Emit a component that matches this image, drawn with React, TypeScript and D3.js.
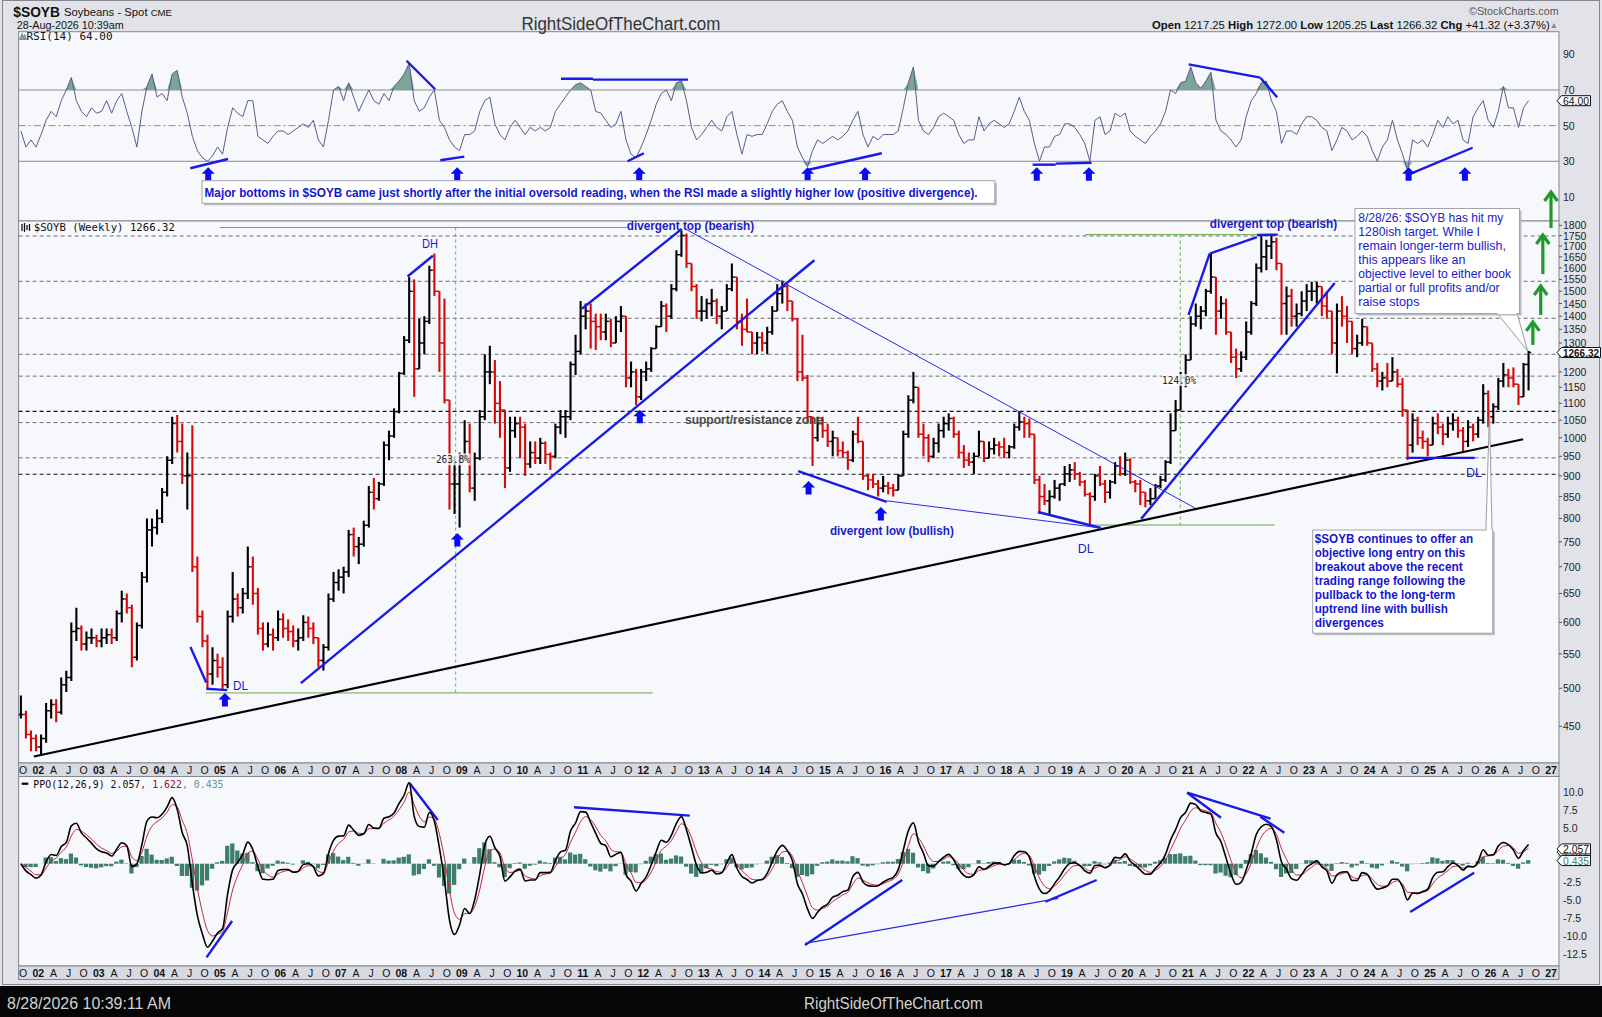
'use client';

import React, { useEffect, useRef } from 'react';
import * as d3 from 'd3';

const firstYear = 2001;
const firstMonth = 8; // September (0-based)

const monthCloses: number[] = [
  465, 440, 435, 425, // 2001
  435, 470, 478, 468, 505, 515, 585, 590, 565, 575, 575, 570, // 2002
  575, 580, 575, 615, 640, 625, 545, 595, 680, 775, 780, 800, // 2003
  860, 940, 1040, 990, 900, 900, 700, 610, 570, 520, 540, 530, // 2004
  505, 610, 640, 625, 650, 700, 650, 590, 565, 580, 575, 605, // 2005
  590, 585, 570, 575, 600, 590, 575, 540, 560, 640, 670, 680, // 2006
  690, 765, 740, 745, 785, 860, 845, 880, 980, 1005, 1075, 1195, // 2007
  1310, 1500, 1210, 1300, 1380, 1590, 1500, 1300, 1110, 880, 880, 950, // 2008
  990, 870, 945, 1060, 1200, 1200, 1100, 1080, 920, 1020, 1040, 1030, // 2009
  930, 960, 945, 985, 955, 950, 1030, 1060, 1060, 1225, 1270, 1400, // 2010
  1420, 1380, 1360, 1340, 1380, 1300, 1380, 1400, 1180, 1200, 1120, 1200, // 2011
  1210, 1280, 1360, 1440, 1400, 1510, 1660, 1750, 1620, 1520, 1420, 1420, // 2012
  1450, 1460, 1400, 1420, 1510, 1560, 1380, 1350, 1340, 1300, 1320, 1300, // 2013
  1340, 1420, 1490, 1520, 1460, 1390, 1200, 1180, 1060, 1000, 1040, 1020, // 2014
  990, 1000, 965, 960, 940, 1010, 990, 900, 890, 880, 870, 875, // 2015
  870, 865, 900, 1010, 1110, 1150, 1010, 1000, 950, 985, 1020, 1040, // 2016
  1055, 1010, 960, 940, 935, 950, 990, 945, 970, 980, 975, 960, // 2017
  975, 1030, 1045, 1040, 1010, 890, 850, 840, 850, 870, 880, 905, // 2018
  915, 905, 885, 855, 850, 900, 880, 860, 885, 925, 905, 940, // 2019
  885, 880, 860, 840, 845, 875, 890, 935, 1020, 1080, 1180, 1240, // 2020
  1370, 1400, 1420, 1500, 1560, 1420, 1450, 1340, 1250, 1210, 1250, 1340, // 2021
  1450, 1600, 1650, 1700, 1720, 1620, 1450, 1480, 1400, 1410, 1460, 1500, // 2022
  1500, 1520, 1440, 1420, 1300, 1420, 1400, 1380, 1280, 1300, 1360, 1300, // 2023
  1210, 1170, 1180, 1170, 1200, 1160, 1080, 980, 1050, 1000, 990, 980, // 2024
  1040, 1030, 1010, 1040, 1050, 1020, 990, 1030, 1010, 1050, 1130, 1060, // 2025
  1090, 1170, 1190, 1180, 1160, 1120, 1225, 1266.32 // 2026
];

const monthHighs: number[] = [
  490, 470, 445, 440,
  440, 480, 485, 485, 515, 525, 600, 625, 595, 585, 590, 580,
  590, 590, 590, 620, 655, 650, 630, 600, 690, 800, 800, 820,
  870, 950, 1060, 1065, 1040, 960, 1035, 720, 620, 580, 560, 550,
  545, 620, 690, 650, 660, 740, 720, 660, 600, 600, 590, 620,
  615, 605, 595, 590, 612, 610, 600, 575, 565, 650, 690, 695,
  700, 775, 780, 760, 795, 875, 895, 885, 990, 1020, 1085, 1200,
  1325, 1560, 1550, 1390, 1400, 1610, 1665, 1480, 1470, 1100, 950, 960,
  1050, 1040, 960, 1080, 1260, 1290, 1240, 1170, 1080, 1060, 1060, 1060,
  1040, 990, 990, 1000, 990, 960, 1040, 1080, 1080, 1235, 1330, 1460,
  1450, 1450, 1410, 1410, 1410, 1390, 1400, 1440, 1400, 1235, 1210, 1210,
  1235, 1285, 1365, 1460, 1450, 1530, 1680, 1775, 1760, 1620, 1530, 1480,
  1470, 1510, 1470, 1440, 1530, 1620, 1560, 1410, 1470, 1340, 1340, 1340,
  1360, 1440, 1530, 1545, 1530, 1460, 1390, 1330, 1190, 1060, 1060, 1060,
  1040, 1020, 1000, 990, 965, 1020, 1060, 990, 905, 905, 890, 900,
  885, 880, 905, 1020, 1125, 1200, 1150, 1040, 1010, 1000, 1040, 1060,
  1070, 1060, 1020, 980, 960, 960, 1020, 990, 990, 1000, 990, 1000,
  980, 1040, 1075, 1060, 1055, 1010, 900, 880, 865, 890, 880, 925,
  930, 935, 910, 890, 860, 905, 925, 890, 890, 935, 950, 960,
  945, 890, 890, 860, 870, 880, 900, 940, 1070, 1110, 1200, 1260,
  1400, 1450, 1440, 1510, 1665, 1560, 1480, 1470, 1340, 1280, 1270, 1380,
  1460, 1620, 1750, 1730, 1750, 1740, 1620, 1520, 1510, 1450, 1500, 1530,
  1540, 1540, 1520, 1500, 1420, 1450, 1480, 1440, 1370, 1330, 1390, 1350,
  1300, 1230, 1200, 1230, 1250, 1210, 1180, 1080, 1070, 1060, 1020, 1000,
  1060, 1070, 1040, 1060, 1070, 1060, 1030, 1050, 1040, 1060, 1160, 1140,
  1100, 1180, 1230, 1210, 1215, 1160, 1230, 1272
];

const monthLows: number[] = [
  460, 435, 420, 420,
  415, 430, 460, 455, 465, 495, 510, 570, 555, 555, 565, 560,
  560, 565, 565, 570, 600, 615, 530, 540, 590, 670, 740, 765,
  790, 850, 930, 960, 880, 820, 690, 600, 560, 500, 505, 515,
  497, 500, 600, 610, 615, 640, 630, 580, 555, 560, 555, 570,
  575, 570, 560, 555, 570, 575, 565, 530, 525, 555, 635, 655,
  650, 680, 720, 705, 740, 780, 820, 840, 875, 940, 1000, 1070,
  1190, 1300, 1120, 1220, 1260, 1370, 1480, 1200, 1100, 820, 810, 780,
  940, 860, 840, 940, 1050, 1160, 1040, 1000, 870, 910, 1000, 945,
  900, 920, 930, 930, 930, 915, 945, 1010, 1000, 1050, 1190, 1260,
  1350, 1280, 1275, 1310, 1310, 1285, 1300, 1340, 1150, 1150, 1095, 1110,
  1170, 1200, 1280, 1360, 1340, 1390, 1500, 1650, 1600, 1500, 1390, 1380,
  1390, 1400, 1370, 1350, 1420, 1500, 1350, 1290, 1340, 1260, 1260, 1270,
  1260, 1330, 1420, 1450, 1420, 1380, 1170, 1170, 1040, 925, 990, 1000,
  975, 950, 950, 945, 915, 935, 985, 890, 865, 870, 850, 860,
  855, 850, 865, 900, 1000, 1100, 1000, 950, 935, 945, 960, 1000,
  1020, 1000, 945, 920, 925, 905, 950, 935, 950, 955, 950, 945,
  945, 970, 1020, 1000, 1000, 880, 810, 830, 810, 845, 840, 875,
  885, 890, 875, 850, 785, 840, 875, 835, 845, 880, 900, 900,
  880, 860, 830, 825, 830, 845, 870, 885, 930, 1020, 1080, 1150,
  1260, 1360, 1350, 1400, 1490, 1330, 1390, 1330, 1230, 1180, 1200, 1240,
  1330, 1440, 1580, 1590, 1640, 1590, 1330, 1330, 1360, 1360, 1400, 1420,
  1460, 1450, 1400, 1390, 1260, 1195, 1360, 1300, 1260, 1250, 1290, 1290,
  1200, 1150, 1140, 1150, 1170, 1150, 1060, 940, 960, 980, 970, 950,
  980, 1010, 980, 1000, 1020, 1000, 960, 975, 990, 1000, 1040, 1030,
  1040, 1080, 1150, 1150, 1150, 1095, 1120, 1140
];

// RSI(14), one reading per month
const rsiReadings: number[] = [
  47, 38, 42, 38,
  45, 53, 58, 55, 64, 70, 77, 64, 58, 55, 60, 57,
  58, 64, 57, 64, 68, 58, 49, 38, 58, 72, 79, 66,
  68, 64, 79, 81, 66, 57, 44, 36, 32, 30, 33, 38,
  34, 49, 60, 57, 55, 64, 64, 44, 42, 40, 44, 47,
  47, 45, 47, 49, 51, 49, 53, 42, 38, 53, 70, 72,
  64, 74, 66, 58, 64, 70, 64, 62, 68, 64, 72, 75,
  79, 85, 64, 58, 60, 66, 70, 53, 49, 42, 38, 36,
  45, 45, 47, 58, 64, 66, 51, 45, 42, 49, 53, 49,
  45, 49, 47, 49, 47, 49, 58, 62, 66, 70, 73, 74,
  72, 70, 58, 57, 53, 49, 51, 58, 42, 34, 32, 38,
  45, 53, 62, 68, 70, 64, 74, 75, 64, 49, 42, 45,
  49, 53, 49, 47, 55, 58, 45, 34, 45, 44, 45, 45,
  51, 58, 62, 64, 58, 53, 38, 32, 27, 36, 42, 40,
  42, 44, 42, 44, 47, 53, 58, 45, 38, 44, 42, 45,
  45, 45, 47, 60, 74, 83, 53, 47, 45, 49, 55, 57,
  55, 53, 45, 40, 42, 42, 55, 47, 51, 53, 51, 49,
  51, 58, 66, 58, 53, 40, 30, 38, 38, 44, 45, 51,
  51, 49, 45, 40, 30, 53, 55, 45, 47, 57, 55, 57,
  47, 44, 42, 40, 44, 47, 51, 58, 70, 68, 74, 75,
  83, 74, 71, 75, 80, 53, 47, 45, 42, 38, 42, 55,
  64, 68, 74, 75, 64, 58, 40, 47, 47, 45, 51, 55,
  55, 53, 49, 47, 36, 42, 49, 47, 42, 44, 47, 44,
  36, 30, 38, 42, 53, 42, 34, 25, 42, 40, 42, 38,
  45, 53, 49, 55, 51, 53, 42, 40, 55, 60, 64, 53,
  49, 58, 72, 60, 60, 49, 60, 64
];

const priceTicks = [450, 500, 550, 600, 650, 700, 750, 800, 850, 900, 950, 1000, 1050, 1100, 1150, 1200, 1250, 1300, 1350, 1400, 1450, 1500, 1550, 1600, 1650, 1700, 1750, 1800];
const rsiTicks = [90, 70, 50, 30, 10];
const ppoTicks = [10, 7.5, 5, 2.5, 0, -2.5, -5, -7.5, -10, -12.5];
const quarterLetters = ['A', 'J', 'O'];
const axisYears = d3.range(2002, 2028);

// last values shown in the boxes on the right
const lastRsi = 64;
const lastPrice = 1266.32;
const lastPpo = [2.057, 1.622, 0.435];

// drawn support / resistance levels
const levelsGray = [1748, 1542, 1392, 1260, 1186, 1043, 946];
const levelsBlack = [1076, 904];

// trend lines: [year1, price1, year2, price2]
const longTermTrend = [2001.926, 414, 2026.54, 995.9];
const blueThick = [
  [2004.514, 560.5, 2004.776, 508],
  [2004.776, 499.3, 2005.123, 497.4],
  [2008.103, 1562.5, 2008.521, 1655],
  [2006.34, 507.1, 2014.826, 1634.6],
  [2010.985, 1429, 2012.635, 1782.5],
  [2014.558, 912, 2016.021, 837.7],
  [2018.521, 814.4, 2019.563, 779.1],
  [2020.227, 799, 2023.426, 1535],
  [2021.01, 1404.7, 2021.359, 1664.8],
  [2021.359, 1664.8, 2022.14, 1742.5],
  [2022.14, 1752.8, 2022.485, 1754.8],
  [2024.614, 945.9, 2025.74, 945.9]
];
const blueThin = [
  [2012.692, 1782.5, 2021.113, 823.7],
  [2016.021, 840, 2019.563, 779.1]
];
const greenSolid = [
  [2004.998, 1789.5, 2011.729, 1789.5],
  [2004.771, 493.6, 2012.154, 493.6],
  [2019.298, 1754.7, 2022.454, 1754.7],
  [2019.399, 785.6, 2022.437, 785.6]
];
const greenDashed = [
  [2008.898, 1789.5, 2008.898, 493.6],
  [2020.873, 1754.7, 2020.873, 785.6]
];
// target arrows: [year, price bottom, price top]
const greenArrows = [
  [2026.7, 1293, 1378],
  [2026.83, 1405, 1522],
  [2026.865, 1573, 1753],
  [2027.0, 1787, 1974]
];
const priceArrows = [
  [2005.084, 493.6], [2008.925, 768.4], [2011.941, 1081], [2014.73, 887.3], [2015.925, 825.7]
];
const rsiArrowYears = [2004.808, 2008.923, 2011.931, 2014.714, 2015.664, 2018.501, 2019.363, 2024.647, 2025.577];
const rsiLines = [
  [2004.512, 26.1, 2005.135, 31.3],
  [2008.644, 30.6, 2009.04, 32.6],
  [2011.739, 30.0, 2012.008, 34.5],
  [2008.087, 86.4, 2008.559, 70.4],
  [2010.638, 76.3, 2011.167, 76.3],
  [2011.167, 75.8, 2012.737, 75.8],
  [2014.715, 25.1, 2015.94, 34.5],
  [2018.433, 28.1, 2018.815, 28.1],
  [2018.815, 28.7, 2019.407, 29.2],
  [2021.012, 84.4, 2022.197, 76.9],
  [2022.197, 76.9, 2022.474, 65.9],
  [2024.605, 21.9, 2025.704, 37.6]
];
const ppoThick = [
  [2004.781, -13.0, 2005.203, -7.96],
  [2008.138, 11.17, 2008.602, 6.07],
  [2010.853, 7.83, 2012.767, 6.67],
  [2014.672, -11.29, 2016.278, -2.26],
  [2018.645, -5.28, 2019.491, -2.26],
  [2020.987, 9.86, 2021.546, 6.39],
  [2020.987, 9.86, 2022.365, 6.25],
  [2022.197, 6.53, 2022.593, 4.31],
  [2024.673, -6.71, 2025.73, -1.25]
];
const ppoThin = [[2014.672, -11.06, 2018.857, -4.81]];

const priceNotes = [
  { text: 'DH', t: 2008.473, p: 1710, anchor: 'middle', bold: false, color: '#1c1cc8', w: 16 },
  { text: 'DL', t: 2005.217, p: 503.2, anchor: 'start', bold: false, color: '#1c1cc8', w: 15 },
  { text: 'divergent top (bearish)', t: 2012.778, p: 1794.5, anchor: 'middle', bold: true, color: '#1c1cc8', w: 127.5 },
  { text: 'support/resistance zone', t: 2013.828, p: 1050.5, anchor: 'middle', bold: true, color: '#4a4a4a', w: 138 },
  { text: 'divergent low (bullish)', t: 2016.107, p: 773.5, anchor: 'middle', bold: true, color: '#1c1cc8', w: 124 },
  { text: 'DL', t: 2019.312, p: 734.6, anchor: 'middle', bold: false, color: '#1c1cc8', w: 16 },
  { text: 'divergent top (bearish)', t: 2022.413, p: 1808.9, anchor: 'middle', bold: true, color: '#1c1cc8', w: 127.5 },
  { text: 'DL', t: 2025.727, p: 907.2, anchor: 'middle', bold: false, color: '#1c1cc8', w: 16 }
];
const extensionLabels = [
  { text: '263.8%', t: 2008.853, p: 942 },
  { text: '124.0%', t: 2020.854, p: 1173.4 }
];

const rsiNote = 'Major bottoms in $SOYB came just shortly after the initial oversold reading, when the RSI made a slightly higher low (positive divergence).';
const targetNote = ['8/28/26: $SOYB has hit my', '1280ish target. While I', 'remain longer-term bullish,', 'this appears like an', 'objective level to either book', 'partial or full profits and/or', 'raise stops'];
const targetWidths = [145, 121.7, 147.6, 107, 152.8, 141.4, 61.2];
const entryNote = ['$SOYB continues to offer an', 'objective long entry on this', 'breakout above the recent', 'trading range following the', 'pullback to the long-term', 'uptrend line with bullish', 'divergences'];
const entryWidths = [158.3, 150.4, 148, 150.4, 140.3, 133, 69.1];

const W = 1602;
const H = 1017;
const plotL = 18.6;
const plotR = 1559;
const rsiTop = 31.7;
const priceTop = 221;
const priceBot = 763;
const ppoTop = 776.5;
const ppoBot = 966;

const sans = '"Liberation Sans", Arial, Helvetica, sans-serif';
const narrow = '"Liberation Sans Narrow", "Liberation Sans", Arial, sans-serif';
const mono = '"DejaVu Sans Mono", "Liberation Mono", monospace';

const ema = (values: number[], period: number) => {
  const a = 2 / (period + 1);
  let prev = values[0];
  return values.map((v, i) => {
    if (i > 0) prev = a * v + (1 - a) * prev;
    return prev;
  });
};

// weekly EMA period -> monthly period with the same average lag
const weeksPerMonth = 52 / 12;
const toMonthly = (weeks: number) => 1 + (weeks - 1) / weeksPerMonth;

const App: React.FC = () => {
  const svgRef = useRef<SVGSVGElement>(null);

  useEffect(() => {
    if (!svgRef.current) return;
    const svg = d3.select(svgRef.current);
    svg.selectAll('*').remove();

    const x = d3.scaleLinear().domain([2002, 2027]).range([38.3, 1551]);
    const yPrice = d3.scaleLog().domain([406.6, 1822]).range([priceBot, priceTop]);
    const yRsi = d3.scaleLinear().domain([-3.5, 102.7]).range([priceTop, rsiTop]);
    const yPpo = d3.scaleLinear().domain([-14.2, 12.08]).range([ppoBot, 776.7]);

    const monthT = monthCloses.map((_, i) => firstYear + (firstMonth + i + 0.55) / 12);

    // PPO(12,26,9) from the monthly closes
    const fast = ema(monthCloses, toMonthly(12));
    const slow = ema(monthCloses, toMonthly(26));
    const ppo = fast.map((f, i) => ((f - slow[i]) / slow[i]) * 100);
    const signal = ema(ppo, toMonthly(9));
    const hist = ppo.map((p, i) => p - signal[i]);

    // background
    svg.append('rect').attr('width', W).attr('height', H).attr('fill', '#e2e3e9');
    svg.append('rect').attr('x', 2.5).attr('y', 0.5).attr('width', 1597).attr('height', 984)
      .attr('fill', 'none').attr('stroke', '#85868d');

    const defs = svg.append('defs');
    const clip = (id: string, y0: number, y1: number) => {
      defs.append('clipPath').attr('id', id).append('rect')
        .attr('x', plotL).attr('y', y0).attr('width', plotR - plotL).attr('height', y1 - y0);
    };
    clip('clipRsi', rsiTop, priceTop);
    clip('clipPrice', priceTop, priceBot);
    clip('clipPpo', ppoTop, ppoBot);

    // panels
    [[rsiTop, priceTop], [priceTop, priceBot], [ppoTop, ppoBot]].forEach(([a, b]) => {
      svg.append('rect').attr('x', plotL).attr('y', a).attr('width', plotR - plotL).attr('height', b - a)
        .attr('fill', '#f6f8fc').attr('stroke', '#85878f');
    });

    // header
    svg.append('text').attr('x', 13.3).attr('y', 12.3).attr('dominant-baseline', 'central')
      .attr('font-family', sans).attr('font-weight', 'bold').attr('font-size', 14)
      .attr('textLength', 46.7).attr('lengthAdjust', 'spacingAndGlyphs').attr('fill', '#111').text('$SOYB');
    const subTitle = svg.append('text').attr('x', 64).attr('y', 12.3).attr('dominant-baseline', 'central')
      .attr('font-family', sans).attr('fill', '#111');
    subTitle.append('tspan').attr('font-size', 11.3).text('Soybeans - Spot ');
    subTitle.append('tspan').attr('font-size', 9.6).text('CME');
    svg.append('text').attr('x', 16.7).attr('y', 25).attr('dominant-baseline', 'central')
      .attr('font-family', sans).attr('font-size', 11.5).attr('textLength', 107)
      .attr('lengthAdjust', 'spacingAndGlyphs').attr('fill', '#111').text('28-Aug-2026 10:39am');
    svg.append('text').attr('x', 521.4).attr('y', 23.5).attr('dominant-baseline', 'central')
      .attr('font-family', narrow).attr('font-size', 18).attr('textLength', 199)
      .attr('lengthAdjust', 'spacingAndGlyphs').attr('fill', '#333').text('RightSideOfTheChart.com');
    svg.append('text').attr('x', 1558.6).attr('y', 11).attr('text-anchor', 'end').attr('dominant-baseline', 'central')
      .attr('font-family', narrow).attr('font-size', 11.5).attr('textLength', 89.6)
      .attr('lengthAdjust', 'spacingAndGlyphs').attr('fill', '#555').text('\u00A9StockCharts.com');
    const quote = svg.append('text').attr('x', 1152).attr('y', 24.8).attr('dominant-baseline', 'central')
      .attr('font-family', narrow).attr('font-size', 11.5).attr('textLength', 406)
      .attr('lengthAdjust', 'spacingAndGlyphs').attr('fill', '#111');
    [['Open ', true], ['1217.25 ', false], ['High ', true], ['1272.00 ', false], ['Low ', true],
      ['1205.25 ', false], ['Last ', true], ['1266.32 ', false], ['Chg ', true], ['+41.32 (+3.37%)', false]]
      .forEach(([s, b]) => {
        quote.append('tspan').attr('font-weight', b ? 'bold' : 'normal').text(s as string);
      });
    quote.append('tspan').attr('fill', '#888').attr('font-size', 8.5).text('\u25B2');

    // ---------- RSI panel ----------
    const rsiG = svg.append('g');
    rsiG.append('g').selectAll('line').data([70, 30]).enter().append('line')
      .attr('x1', plotL).attr('x2', plotR).attr('y1', d => yRsi(d)).attr('y2', d => yRsi(d))
      .attr('stroke', '#8c8c90').attr('stroke-width', 1);
    rsiG.append('line').attr('x1', plotL).attr('x2', plotR).attr('y1', yRsi(50)).attr('y2', yRsi(50))
      .attr('stroke', '#8c8c90').attr('stroke-dasharray', '7,3,2,3');

    const rsiData = rsiReadings.map((r, i) => ({ t: monthT[i], r }));
    const hiArea = d3.area<{ t: number; r: number }>().x(d => x(d.t)).y0(yRsi(70)).y1(d => yRsi(Math.max(d.r, 70)));
    const loArea = d3.area<{ t: number; r: number }>().x(d => x(d.t)).y0(yRsi(30)).y1(d => yRsi(Math.min(d.r, 30)));
    rsiG.append('path').attr('d', hiArea(rsiData)).attr('fill', '#7ba596').attr('clip-path', 'url(#clipRsi)');
    rsiG.append('path').attr('d', loArea(rsiData)).attr('fill', '#8fa8b8').attr('clip-path', 'url(#clipRsi)');
    const rsiLine = d3.line<{ t: number; r: number }>().x(d => x(d.t)).y(d => yRsi(d.r));
    rsiG.append('path').attr('d', rsiLine(rsiData)).attr('fill', 'none').attr('stroke', '#5c5a8e')
      .attr('stroke-width', 1).attr('clip-path', 'url(#clipRsi)');

    rsiG.selectAll('text.tick').data(rsiTicks).enter().append('text').attr('class', 'tick')
      .attr('x', 1563).attr('y', d => yRsi(d)).attr('dominant-baseline', 'central')
      .attr('font-family', sans).attr('font-size', 10.5).attr('fill', '#222').text(d => String(d));

    // title with icon
    svg.append('path').attr('d', 'M19.5,39.5 L22,33.5 L23.5,36.5 L24.7,34.5 L26.5,39.5 Z').attr('fill', '#7ba596').attr('stroke', '#5c5a8e').attr('stroke-width', 0.6);
    svg.append('text').attr('x', 26.5).attr('y', 36.5).attr('dominant-baseline', 'central')
      .attr('font-family', mono).attr('font-size', 11).attr('textLength', 86)
      .attr('lengthAdjust', 'spacingAndGlyphs').attr('fill', '#111').text('RSI(14) 64.00');

    // ---------- price panel ----------
    const priceG = svg.append('g');
    priceG.selectAll('line.lvl').data(levelsGray).enter().append('line').attr('class', 'lvl')
      .attr('x1', plotL).attr('x2', plotR).attr('y1', d => yPrice(d)).attr('y2', d => yPrice(d))
      .attr('stroke', '#6e6e72').attr('stroke-width', 1).attr('stroke-dasharray', '4,3');
    priceG.selectAll('line.lvlb').data(levelsBlack).enter().append('line').attr('class', 'lvlb')
      .attr('x1', plotL).attr('x2', plotR).attr('y1', d => yPrice(d)).attr('y2', d => yPrice(d))
      .attr('stroke', '#111').attr('stroke-width', 1.2).attr('stroke-dasharray', '4,3');

    // measuring lines
    priceG.selectAll('line.gs').data(greenSolid).enter().append('line').attr('class', 'gs')
      .attr('x1', d => x(d[0])).attr('y1', d => yPrice(d[1])).attr('x2', d => x(d[2])).attr('y2', d => yPrice(d[3]))
      .attr('stroke', '#6aa84a').attr('stroke-width', 1);
    priceG.selectAll('line.gd').data(greenDashed).enter().append('line').attr('class', 'gd')
      .attr('x1', d => x(d[0])).attr('y1', d => yPrice(d[1])).attr('x2', d => x(d[2])).attr('y2', d => yPrice(d[3]))
      .attr('stroke', '#6aa84a').attr('stroke-width', 1).attr('stroke-dasharray', '3,3');

    // OHLC bars
    const bars = monthCloses.map((c, i) => {
      const o = i === 0 ? c : monthCloses[i - 1];
      return { t: monthT[i], o, c, h: Math.max(monthHighs[i], o, c), l: Math.min(monthLows[i], o, c) };
    });
    const barG = priceG.append('g').attr('clip-path', 'url(#clipPrice)');
    barG.selectAll('g.bar').data(bars).enter().append('g').attr('class', 'bar').each(function (d) {
      const g = d3.select(this);
      const cx = x(d.t);
      const col = d.c >= d.o ? '#000000' : '#d20a0a';
      g.append('line').attr('x1', cx).attr('x2', cx).attr('y1', yPrice(d.h)).attr('y2', yPrice(d.l))
        .attr('stroke', col).attr('stroke-width', 2.1);
      g.append('line').attr('x1', cx - 2.6).attr('x2', cx).attr('y1', yPrice(d.o)).attr('y2', yPrice(d.o))
        .attr('stroke', col).attr('stroke-width', 1.5);
      g.append('line').attr('x1', cx).attr('x2', cx + 2.6).attr('y1', yPrice(d.c)).attr('y2', yPrice(d.c))
        .attr('stroke', col).attr('stroke-width', 1.5);
    });

    // trend lines
    priceG.append('line').attr('x1', x(longTermTrend[0])).attr('y1', yPrice(longTermTrend[1]))
      .attr('x2', x(longTermTrend[2])).attr('y2', yPrice(longTermTrend[3]))
      .attr('stroke', '#000').attr('stroke-width', 2.2);
    priceG.selectAll('line.bt').data(blueThick).enter().append('line').attr('class', 'bt')
      .attr('x1', d => x(d[0])).attr('y1', d => yPrice(d[1])).attr('x2', d => x(d[2])).attr('y2', d => yPrice(d[3]))
      .attr('stroke', '#1a1ae6').attr('stroke-width', 2.4);
    priceG.selectAll('line.bn').data(blueThin).enter().append('line').attr('class', 'bn')
      .attr('x1', d => x(d[0])).attr('y1', d => yPrice(d[1])).attr('x2', d => x(d[2])).attr('y2', d => yPrice(d[3]))
      .attr('stroke', '#2a2ae0').attr('stroke-width', 1);

    const upArrow = 'M0,0 L6.5,6.5 L3,6.5 L3,13.5 L-3,13.5 L-3,6.5 L-6.5,6.5 Z';
    priceG.selectAll('path.arr').data(priceArrows).enter().append('path').attr('class', 'arr')
      .attr('d', upArrow).attr('fill', '#0a0af5')
      .attr('transform', d => `translate(${x(d[0])},${yPrice(d[1])})`);

    priceNotes.forEach(n => {
      priceG.append('text').attr('x', x(n.t)).attr('y', yPrice(n.p)).attr('text-anchor', n.anchor)
        .attr('dominant-baseline', 'central').attr('font-family', sans).attr('font-size', 12)
        .attr('font-weight', n.bold ? 'bold' : 'normal').attr('fill', n.color)
        .attr('textLength', n.w).attr('lengthAdjust', 'spacingAndGlyphs').text(n.text);
    });
    extensionLabels.forEach(n => {
      const cx = x(n.t);
      const cy = yPrice(n.p);
      priceG.append('rect').attr('x', cx - 17.5).attr('y', cy - 6).attr('width', 35).attr('height', 12)
        .attr('fill', '#ffffff').attr('opacity', 0.75);
      priceG.append('text').attr('x', cx).attr('y', cy).attr('text-anchor', 'middle').attr('dominant-baseline', 'central')
        .attr('font-family', mono).attr('font-size', 10).attr('fill', '#222')
        .attr('textLength', 34).attr('lengthAdjust', 'spacingAndGlyphs').text(n.text);
    });

    // green target arrows
    greenArrows.forEach(a => {
      const ax = x(a[0]);
      const yb = yPrice(a[1]);
      const yt = yPrice(a[2]);
      priceG.append('line').attr('x1', ax).attr('x2', ax).attr('y1', yb).attr('y2', yt + 1)
        .attr('stroke', '#1f9a2a').attr('stroke-width', 3.2);
      priceG.append('path').attr('d', `M${ax - 6.5},${yt + 9} L${ax},${yt} L${ax + 6.5},${yt + 9}`)
        .attr('fill', 'none').attr('stroke', '#1f9a2a').attr('stroke-width', 3.2).attr('stroke-linejoin', 'miter');
    });

    // price title
    svg.append('path').attr('d', 'M22,224 L22,231 M24.5,223 L24.5,232 M27,225 L27,230 M29.5,224 L29.5,231')
      .attr('stroke', '#111').attr('stroke-width', 1.3);
    svg.append('text').attr('x', 33.8).attr('y', 227.8).attr('dominant-baseline', 'central')
      .attr('font-family', mono).attr('font-size', 11).attr('textLength', 141)
      .attr('lengthAdjust', 'spacingAndGlyphs').attr('fill', '#111').text('$SOYB (Weekly) 1266.32');

    // right axes: a tick label is hidden where a value box sits on it
    const freeOf = (boxes: number[]) => (y: number) => boxes.every(b => Math.abs(b - y) > 6);
    const priceFree = freeOf([yPrice(lastPrice)]);
    svg.selectAll('text.pt').data(priceTicks.filter(d => priceFree(yPrice(d)))).enter().append('text').attr('class', 'pt')
      .attr('x', 1563).attr('y', d => yPrice(d)).attr('dominant-baseline', 'central')
      .attr('font-family', sans).attr('font-size', 10.5).attr('fill', '#222').text(d => String(d));
    svg.selectAll('line.ptk').data(priceTicks).enter().append('line').attr('class', 'ptk')
      .attr('x1', plotR).attr('x2', plotR + 3).attr('y1', d => yPrice(d)).attr('y2', d => yPrice(d))
      .attr('stroke', '#555');

    // ---------- RSI annotations ----------
    const annG = svg.append('g');
    annG.selectAll('line.rl').data(rsiLines).enter().append('line').attr('class', 'rl')
      .attr('x1', d => x(d[0])).attr('y1', d => yRsi(d[1])).attr('x2', d => x(d[2])).attr('y2', d => yRsi(d[3]))
      .attr('stroke', '#1a1ae6').attr('stroke-width', 2.4);
    annG.selectAll('path.ra').data(rsiArrowYears).enter().append('path').attr('class', 'ra')
      .attr('d', upArrow).attr('fill', '#0a0af5')
      .attr('transform', d => `translate(${x(d)},${yRsi(26.6)})`);

    // ---------- PPO panel ----------
    const ppoG = svg.append('g').attr('clip-path', 'url(#clipPpo)');
    const bw = x(2002 + 1 / 12) - x(2002);
    ppoG.selectAll('rect.h').data(hist).enter().append('rect').attr('class', 'h')
      .attr('x', (_, i) => x(monthT[i]) - bw / 2)
      .attr('y', d => Math.min(yPpo(d), yPpo(0)))
      .attr('width', bw - 0.8)
      .attr('height', d => Math.abs(yPpo(d) - yPpo(0)))
      .attr('fill', '#3f7d6c');
    const ppoLine = d3.line<number>().x((_, i) => x(monthT[i])).y(d => yPpo(d)).curve(d3.curveMonotoneX);
    ppoG.append('path').attr('d', ppoLine(signal)).attr('fill', 'none').attr('stroke', '#c2263e').attr('stroke-width', 1);
    ppoG.append('path').attr('d', ppoLine(ppo)).attr('fill', 'none').attr('stroke', '#000').attr('stroke-width', 1.6);

    annG.selectAll('line.pl').data(ppoThick).enter().append('line').attr('class', 'pl')
      .attr('x1', d => x(d[0])).attr('y1', d => yPpo(d[1])).attr('x2', d => x(d[2])).attr('y2', d => yPpo(d[3]))
      .attr('stroke', '#1a1ae6').attr('stroke-width', 2.4);
    annG.selectAll('line.pn').data(ppoThin).enter().append('line').attr('class', 'pn')
      .attr('x1', d => x(d[0])).attr('y1', d => yPpo(d[1])).attr('x2', d => x(d[2])).attr('y2', d => yPpo(d[3]))
      .attr('stroke', '#2a2ae0').attr('stroke-width', 1.2);

    const ppoFree = freeOf(lastPpo.map(v => yPpo(v)));
    svg.selectAll('text.pp').data(ppoTicks.filter(d => ppoFree(yPpo(d)))).enter().append('text').attr('class', 'pp')
      .attr('x', 1563).attr('y', d => yPpo(d)).attr('dominant-baseline', 'central')
      .attr('font-family', sans).attr('font-size', 10.5).attr('fill', '#222').text(d => d.toFixed(1));

    svg.append('line').attr('x1', 21.7).attr('x2', 28.3).attr('y1', 783.7).attr('y2', 783.7)
      .attr('stroke', '#000').attr('stroke-width', 2.2);
    const ppoTitle = svg.append('text').attr('x', 33.3).attr('y', 784).attr('dominant-baseline', 'central')
      .attr('font-family', mono).attr('font-size', 9.9);
    ppoTitle.append('tspan').attr('fill', '#111').text('PPO(12,26,9) 2.057');
    ppoTitle.append('tspan').attr('fill', '#8a1538').text(', 1.622');
    ppoTitle.append('tspan').attr('fill', '#5f9a8a').text(', 0.435');

    // ---------- x axes ----------
    const drawAxis = (y0: number, y1: number) => {
      svg.append('rect').attr('x', plotL).attr('y', y0).attr('width', plotR - plotL).attr('height', y1 - y0)
        .attr('fill', '#d8dae1').attr('stroke', '#85878f');
      const cy = (y0 + y1) / 2 + 0.5;
      const items: { t: number; s: string; b: boolean }[] = [{ t: 2001.75, s: 'O', b: false }];
      axisYears.forEach(yr => {
        items.push({ t: yr, s: String(yr).slice(2), b: true });
        if (yr < 2027) quarterLetters.forEach((q, k) => items.push({ t: yr + (k + 1) / 4, s: q, b: false }));
      });
      items.filter(it => x(it.t) > plotL + 3 && x(it.t) < plotR - 3).forEach(it => {
        svg.append('text').attr('x', x(it.t)).attr('y', cy).attr('text-anchor', 'middle')
          .attr('dominant-baseline', 'central').attr('font-family', sans).attr('font-size', 10.5)
          .attr('font-weight', it.b ? 'bold' : 'normal').attr('fill', '#111').text(it.s);
      });
    };
    drawAxis(priceBot, ppoTop);
    drawAxis(ppoBot, 979.5);

    // ---------- value boxes on the right ----------
    const valueBox = (y: number, s: string, color: string, bold: boolean, w: number) => {
      svg.append('path')
        .attr('d', `M${plotR - 2},${y} L${plotR + 2.5},${y - 5} L${plotR + 2.5 + w},${y - 5} L${plotR + 2.5 + w},${y + 5} L${plotR + 2.5},${y + 5} Z`)
        .attr('fill', '#ffffff').attr('stroke', '#111').attr('stroke-width', 1);
      svg.append('text').attr('x', plotR + 4).attr('y', y + 0.5).attr('dominant-baseline', 'central')
        .attr('font-family', sans).attr('font-size', 10.5).attr('font-weight', bold ? 'bold' : 'normal')
        .attr('fill', color).attr('textLength', w - 3).attr('lengthAdjust', 'spacingAndGlyphs').text(s);
    };
    valueBox(yRsi(lastRsi), lastRsi.toFixed(2), '#111', false, 29);
    valueBox(yPrice(lastPrice), lastPrice.toFixed(2), '#111', true, 39);
    valueBox(yPpo(lastPpo[1]), lastPpo[1].toFixed(3), '#8a1538', false, 29);
    valueBox(yPpo(lastPpo[2]), lastPpo[2].toFixed(3), '#3f7d6c', false, 29);
    valueBox(yPpo(lastPpo[0]), lastPpo[0].toFixed(3), '#111', false, 29);

    // ---------- callouts ----------
    const box = (bx: number, by: number, bw2: number, bh: number) => {
      svg.append('rect').attr('x', bx + 2).attr('y', by + 2).attr('width', bw2).attr('height', bh).attr('fill', '#b9bbc2');
      svg.append('rect').attr('x', bx).attr('y', by).attr('width', bw2).attr('height', bh)
        .attr('fill', '#ffffff').attr('stroke', '#a2a4aa').attr('stroke-width', 1);
    };
    box(202, 180.7, 792.8, 22.6);
    svg.append('text').attr('x', 204.6).attr('y', 192).attr('dominant-baseline', 'central')
      .attr('font-family', narrow).attr('font-size', 13.5).attr('font-weight', 'bold').attr('fill', '#1515d0')
      .attr('textLength', 773).attr('lengthAdjust', 'spacingAndGlyphs').text(rsiNote);

    // target callout with pointer to the last bar
    svg.append('path').attr('d', `M1497,313 L${x(monthT[monthT.length - 1]) - 1},${yPrice(1272)} L1517,313`)
      .attr('fill', '#ffffff').attr('stroke', '#9a9ca2').attr('stroke-width', 1);
    box(1355, 208.5, 164.5, 105);
    svg.append('rect').attr('x', 1497.6).attr('y', 311).attr('width', 18.8).attr('height', 3).attr('fill', '#ffffff');
    targetNote.forEach((s, i) => {
      svg.append('text').attr('x', 1358.3).attr('y', 217.9 + i * 13.98).attr('dominant-baseline', 'central')
        .attr('font-family', sans).attr('font-size', 12.3).attr('fill', '#2020c8')
        .attr('textLength', targetWidths[i]).attr('lengthAdjust', 'spacingAndGlyphs').text(s);
    });

    // entry callout with pointer to the breakout
    svg.append('path').attr('d', `M1485.9,531 L1489.5,411 L1492,531`)
      .attr('fill', '#ffffff').attr('stroke', '#9a9ca2').attr('stroke-width', 1);
    box(1312.7, 530, 180.1, 103.2);
    svg.append('rect').attr('x', 1486.5).attr('y', 529).attr('width', 5).attr('height', 3).attr('fill', '#ffffff');
    entryNote.forEach((s, i) => {
      svg.append('text').attr('x', 1314.8).attr('y', 538.6 + i * 14.05).attr('dominant-baseline', 'central')
        .attr('font-family', sans).attr('font-size', 12).attr('font-weight', 'bold').attr('fill', '#1515d0')
        .attr('textLength', entryWidths[i]).attr('lengthAdjust', 'spacingAndGlyphs').text(s);
    });

    // ---------- footer ----------
    svg.append('rect').attr('x', 0).attr('y', 986).attr('width', W).attr('height', H - 986).attr('fill', '#060606');
    svg.append('text').attr('x', 7).attr('y', 1003.3).attr('dominant-baseline', 'central')
      .attr('font-family', narrow).attr('font-size', 16).attr('fill', '#d2d2d2')
      .attr('textLength', 164).attr('lengthAdjust', 'spacingAndGlyphs').text('8/28/2026 10:39:11 AM');
    svg.append('text').attr('x', 804).attr('y', 1003.3).attr('dominant-baseline', 'central')
      .attr('font-family', narrow).attr('font-size', 16).attr('fill', '#d2d2d2')
      .attr('textLength', 178.6).attr('lengthAdjust', 'spacingAndGlyphs').text('RightSideOfTheChart.com');
  }, []);

  return (
    <div style={{ position: 'absolute', left: 0, top: 0, width: W, height: H }}>
      <svg ref={svgRef} width={W} height={H} style={{ display: 'block' }} />
    </div>
  );
};

export default App;
